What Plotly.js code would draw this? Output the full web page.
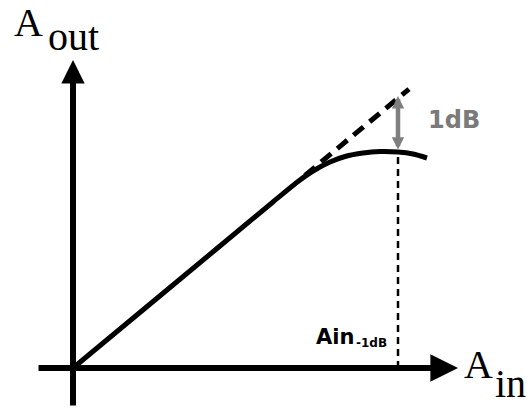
<!DOCTYPE html>
<html>
<head>
<meta charset="utf-8">
<script src="https://cdn.plot.ly/plotly-3.0.1.min.js"></script>
<style>html,body{margin:0;padding:0;background:#fff;}#chart{width:527px;height:409px;}</style>
</head>
<body>
<div id="chart"></div>
<script>
// Input / output amplitude (arbitrary units, origin at axis crossing)
const ainCurve  = [0, 100, 200, 225, 240, 257, 272, 290, 307, 325, 340, 354];
const aoutCurve = [0, 83, 166, 186.5, 197, 206, 211.5, 215, 216.5, 216, 214, 210];
// Ideal linear extension (dashed)
const ainIdeal  = [232, 336];
const aoutIdeal = [192.6, 278.9];
// 1 dB compression point
const ain1dB = 325;
const aoutCompressed = 216;
const aoutLinear = 270;
// Axis extents
const xAxisExtent = [-36, 385];
const yAxisExtent = [-39, 308];
// Labels
const labelOut = ["A", "out"];
const labelIn = ["A", "in"];
const label1dB = "1dB";
const labelAin = ["Ain", "-1dB"];

const traces = [
  {x: ainCurve, y: aoutCurve, mode: 'lines', line: {color: '#000', width: 5, shape: 'spline', smoothing: 0.8}, hoverinfo: 'skip'},
  {x: ainIdeal, y: aoutIdeal, mode: 'lines', line: {color: '#000', width: 5, dash: '13px,8px'}, hoverinfo: 'skip'},
  {x: [ain1dB, ain1dB], y: [0, aoutCompressed], mode: 'lines', line: {color: '#000', width: 2.5, dash: '7px,5px'}, hoverinfo: 'skip'}
];

const serif = 'Liberation Serif, Times New Roman, serif';
const sans = 'DejaVu Sans, sans-serif';

const annotations = [
  // y axis arrow
  {x: 0, y: yAxisExtent[1], ax: 0, ay: yAxisExtent[0], xref: 'x', yref: 'y', axref: 'x', ayref: 'y',
   text: '', showarrow: true, arrowhead: 2, arrowsize: 0.78, arrowwidth: 6, arrowcolor: '#000', standoff: 0},
  // x axis arrow
  {x: xAxisExtent[1], y: 0, ax: xAxisExtent[0], ay: 0, xref: 'x', yref: 'y', axref: 'x', ayref: 'y',
   text: '', showarrow: true, arrowhead: 2, arrowsize: 0.92, arrowwidth: 6, arrowcolor: '#000', standoff: 0},
  // 1 dB gap arrow
  {x: ain1dB, y: aoutLinear + 2, ax: ain1dB, ay: aoutCompressed + 1, xref: 'x', yref: 'y', axref: 'x', ayref: 'y',
   text: '', showarrow: true, arrowhead: 2, arrowside: 'end+start', arrowsize: 0.55, arrowwidth: 4.5, arrowcolor: '#7f7f7f', standoff: 0, startstandoff: 0},
  // labels
  {x: -61, y: 321, xref: 'x', yref: 'y', xanchor: 'left', yanchor: 'bottom', showarrow: false,
   text: labelOut[0], font: {family: serif, size: 40, color: '#000'}},
  {x: -27, y: 307, xref: 'x', yref: 'y', xanchor: 'left', yanchor: 'bottom', showarrow: false,
   text: labelOut[1], font: {family: serif, size: 40, color: '#000'}},
  {x: 389, y: -21, xref: 'x', yref: 'y', xanchor: 'left', yanchor: 'bottom', showarrow: false,
   text: labelIn[0], font: {family: serif, size: 40, color: '#000'}},
  {x: 420, y: -40, xref: 'x', yref: 'y', xanchor: 'left', yanchor: 'bottom', showarrow: false,
   text: labelIn[1], font: {family: serif, size: 40, color: '#000'}},
  {x: 381, y: 248, xref: 'x', yref: 'y', xanchor: 'center', yanchor: 'middle', showarrow: false,
   text: '<b>' + label1dB + '</b>', font: {family: sans, size: 24, color: '#7a7a7a'}},
  {x: 241, y: 17, xref: 'x', yref: 'y', xanchor: 'left', yanchor: 'bottom', showarrow: false,
   text: '<b>' + labelAin[0] + '</b>', font: {family: sans, size: 21, color: '#000'}},
  {x: 281, y: 16, xref: 'x', yref: 'y', xanchor: 'left', yanchor: 'bottom', showarrow: false,
   text: '<b>' + labelAin[1] + '</b>', font: {family: sans, size: 12, color: '#000'}}
];

const layout = {
  width: 527, height: 409,
  margin: {l: 0, r: 0, t: 0, b: 0},
  paper_bgcolor: '#fff', plot_bgcolor: '#fff',
  showlegend: false,
  xaxis: {range: [-73, 454], visible: false, fixedrange: true},
  yaxis: {range: [-41, 368], visible: false, fixedrange: true},
  annotations: annotations
};

Plotly.newPlot('chart', traces, layout, {staticPlot: true, displayModeBar: false});
</script>
</body>
</html>
